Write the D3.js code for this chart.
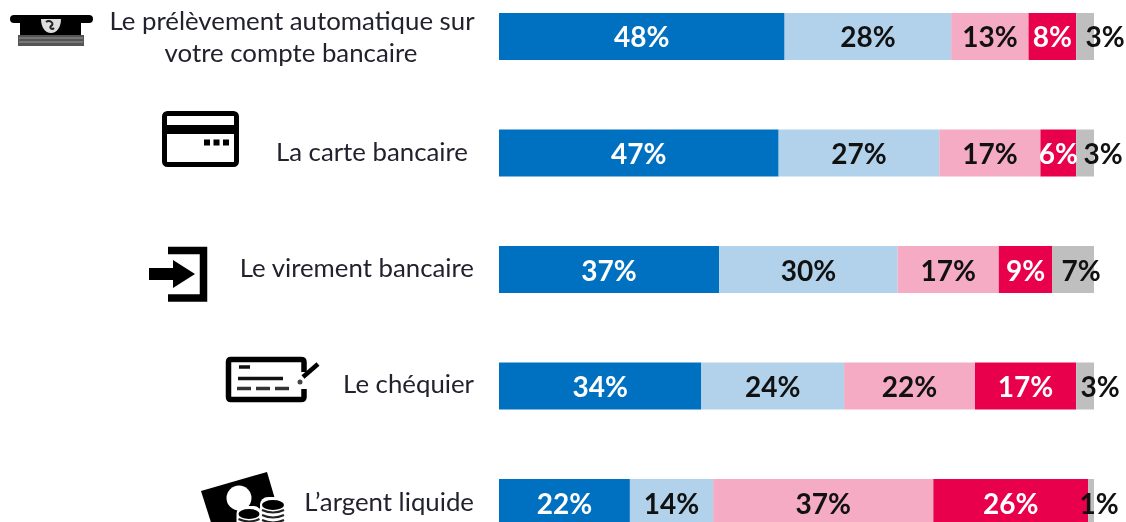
<!DOCTYPE html>
<html><head><meta charset="utf-8">
<script src="https://cdn.jsdelivr.net/npm/d3@7"></script>
<style>html,body{margin:0;padding:0;background:#fff;overflow:hidden}svg{display:block;filter:blur(.5px)}</style>
</head><body><svg id="c" width="1126" height="522"></svg>
<script>
const categories = ["Le prélèvement automatique sur votre compte bancaire","La carte bancaire","Le virement bancaire","Le chéquier","L’argent liquide"];
const seriesA = [48,47,37,34,22];
const seriesB = [28,27,30,24,14];
const seriesC = [13,17,17,22,37];
const seriesD = [8,6,9,17,26];
const seriesE = [3,3,7,3,1];
const allSeries = [seriesA,seriesB,seriesC,seriesD,seriesE];
const colors = ["#0070c0","#b1d2ea","#f4abc3","#e8004c","#bfbfbf"];
const textColors = ["#fff","#111","#111","#fff","#111"];
const greyLabelNudge = [20,18,8,15,8];
const labelLines = [["Le prélèvement automatique sur","votre compte bancaire"],["La carte bancaire"],["Le virement bancaire"],["Le chéquier"],["L’argent liquide"]];

const svg = d3.select("#c");
const FONT = "Lato, Carlito, sans-serif";
const x = d3.scaleLinear().domain([0,100]).range([499,1094]);
const y = d3.scaleBand().domain(categories).range([13,526]).paddingInner(0.5966).paddingOuter(0);

const rows = svg.selectAll("g.row").data(categories).join("g").attr("class","row");
rows.each(function(cat,i){
  const g = d3.select(this);
  let cum = 0;
  allSeries.forEach((s,k)=>{
    const v = s[i], x0 = x(cum), x1 = x(cum+v);
    g.append("rect").attr("x",x0).attr("y",y(cat)).attr("width",x1-x0).attr("height",y.bandwidth()).attr("fill",colors[k]);
    cum += v;
  });
  cum = 0;
  allSeries.forEach((s,k)=>{
    const v = s[i], xm = x(cum+v/2) + (k===4?greyLabelNudge[i]:0);
    g.append("text").attr("x",xm).attr("y",y(cat)+y.bandwidth()/2+11).attr("text-anchor","middle")
      .attr("font-family",FONT).attr("font-weight",700).attr("font-size",28).attr("fill",textColors[k]).text(v+"%");
    cum += v;
  });
});

// category labels
const lab = svg.append("g").attr("font-family",FONT).attr("font-size",25.8).attr("fill","#22222e");
lab.append("text").attr("x",292).attr("y",30).attr("text-anchor","middle").text(labelLines[0][0]);
lab.append("text").attr("x",291).attr("y",62).attr("text-anchor","middle").text(labelLines[0][1]);
lab.append("text").attr("x",468).attr("y",161).attr("text-anchor","end").text(labelLines[1][0]);
lab.append("text").attr("x",474).attr("y",277).attr("text-anchor","end").text(labelLines[2][0]);
lab.append("text").attr("x",474).attr("y",393).attr("text-anchor","end").text(labelLines[3][0]);
lab.append("text").attr("x",474).attr("y",511).attr("text-anchor","end").text(labelLines[4][0]);

// icons
const ic = svg.append("g");
// ATM / banknote
ic.append("rect").attr("x",10).attr("y",15).attr("width",83).attr("height",8).attr("rx",4).attr("fill","#000");
ic.append("rect").attr("x",20).attr("y",18).attr("width",61).attr("height",17).attr("fill","#000");
ic.append("rect").attr("x",18).attr("y",35).attr("width",66).attr("height",11).attr("fill","#555");
ic.append("path").attr("d","M19 38H83M19 42H83").attr("stroke","#999").attr("stroke-width",1);
ic.append("path").attr("d","M41 19H61C61 27 57 33 51 33C45 33 41 27 41 19Z").attr("fill","#ddd");
ic.append("path").attr("d","M46 22C50 19 55 24 51 26C49 28 52 30 54 28").attr("fill","none").attr("stroke","#222").attr("stroke-width",2);
// card
ic.append("rect").attr("x",164.5).attr("y",113.5).attr("width",72).attr("height",51).attr("rx",3).attr("fill","#fff").attr("stroke","#000").attr("stroke-width",5);
ic.append("rect").attr("x",165).attr("y",125).attr("width",71).attr("height",9).attr("fill","#000");
ic.append("path").attr("d","M204 142.5H229").attr("stroke","#000").attr("stroke-width",6).attr("stroke-dasharray","6 3.5");
// transfer
ic.append("path").attr("d","M168 250.5H203.5V298H168").attr("fill","none").attr("stroke","#000").attr("stroke-width",7.5);
ic.append("path").attr("d","M149 268H173V260L195 274L173 288V280H149Z").attr("fill","#000");
// cheque
ic.append("path").attr("d","M304 372V362Q304 359.500 301 359.500H231Q228.500 359.500 228.500 362V397Q228.500 399.500 231 399.500H301Q304 399.500 304 397V389").attr("fill","none").attr("stroke","#000").attr("stroke-width",5.5);
ic.append("path").attr("d","M239 367H250M238 378.500H283").attr("stroke","#111").attr("stroke-width",3.5);
ic.append("path").attr("d","M237 388.500H292").attr("stroke","#333").attr("stroke-width",3.5).attr("stroke-dasharray","14 5");
ic.append("path").attr("d","M303 377L318 364").attr("stroke","#000").attr("stroke-width",4.5);
ic.append("circle").attr("cx",300).attr("cy",382).attr("r",2.5).attr("fill","#444");
// cash
ic.append("path").attr("d","M201 491L267 472L280 516L215 535Z").attr("fill","#000");
ic.append("circle").attr("cx",239).attr("cy",498).attr("r",12.5).attr("fill","#fff");
[[273,505,22,4],[249,514,21,2]].forEach(([cx,cy,w,n])=>{
  ic.append("rect").attr("x",cx-w/2-2).attr("y",cy-8).attr("width",w+4).attr("height",30).attr("rx",8).attr("fill","#fff");
  ic.append("ellipse").attr("cx",cx).attr("cy",cy).attr("rx",w/2).attr("ry",5).attr("fill","#000");
  d3.range(1,n+1).forEach(j=>ic.append("path").attr("d",`M${cx-w/2} ${cy+j*5}q${w/2} 5 ${w} 0`).attr("fill","none").attr("stroke","#222").attr("stroke-width",2));
});
</script></body></html>
